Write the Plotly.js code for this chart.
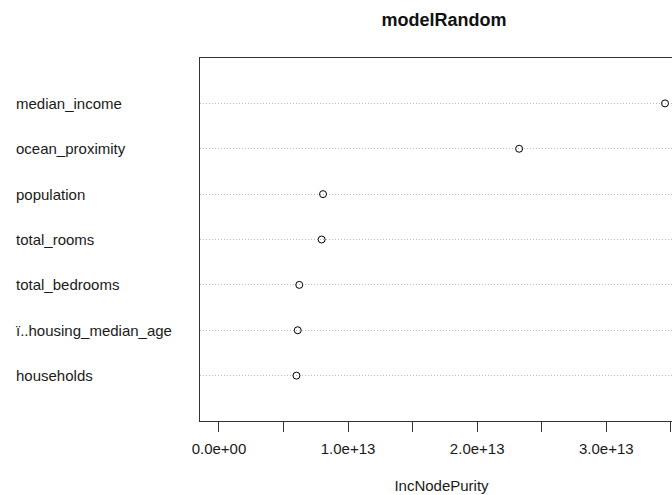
<!DOCTYPE html>
<html>
<head>
<meta charset="utf-8">
<script src="https://cdn.plot.ly/plotly-3.0.1.min.js"></script>
<style>
html, body { margin: 0; padding: 0; overflow: hidden; background: #fff; }
#chart { width: 700px; height: 495px; }
</style>
</head>
<body>
<div id="chart"></div>
<script>
// Variables, top to bottom as drawn
const variables = ["median_income", "ocean_proximity", "population", "total_rooms",
                   "total_bedrooms", "ï..housing_median_age", "households"];
const incNodePurity = [3.455e13, 2.325e13, 0.806e13, 0.795e13, 0.622e13, 0.610e13, 0.600e13];
const tickValues = [0, 0.5e13, 1.0e13, 1.5e13, 2.0e13, 2.5e13, 3.0e13, 3.5e13];
const tickLabels = ["0.0e+00", "", "1.0e+13", "", "2.0e+13", "", "3.0e+13", ""];
const chartTitle = "modelRandom";
const xTitle = "IncNodePurity";

const n = variables.length;
const yPos = variables.map((_, i) => n - i);

const font = "Liberation Sans, Arial, sans-serif";
const plotLeft = 200, plotRight = 683;
const plotW = plotRight - plotLeft;

const annotations = variables.map((v, i) => ({
  text: v, xref: "paper", yref: "y",
  x: (14 - plotLeft) / plotW, y: yPos[i],
  xanchor: "left", yanchor: "middle", showarrow: false,
  font: { family: font, size: 15, color: "#1a1a1a" }
}));

Plotly.newPlot("chart", [{
  type: "scatter", mode: "markers",
  x: incNodePurity, y: yPos,
  marker: { symbol: "circle-open", size: 7, color: "#000", line: { width: 1, color: "#000" } },
  hoverinfo: "skip"
}], {
  width: 700, height: 495,
  margin: { l: 200, r: 17, t: 58, b: 74.3, pad: 0 },
  paper_bgcolor: "#fff", plot_bgcolor: "#fff",
  showlegend: false,
  title: {
    text: "<b>" + chartTitle + "</b>",
    font: { family: font, size: 18, color: "#111" },
    xref: "paper", x: 0.505, xanchor: "center",
    yref: "container", y: 1 - 20 / 495, yanchor: "middle"
  },
  xaxis: {
    range: [-0.147e13, -0.147e13 + plotW / 129.1 * 1e13],
    tickmode: "array", tickvals: tickValues, ticktext: tickLabels,
    ticks: "outside", ticklen: 10, tickwidth: 1, tickcolor: "#333",
    ticklabelstandoff: 4,
    showgrid: false, zeroline: false,
    showline: true, mirror: true, linecolor: "#333", linewidth: 1,
    tickfont: { family: font, size: 15, color: "#1a1a1a" },
    title: { text: xTitle, font: { family: font, size: 15, color: "#1a1a1a" }, standoff: 24 },
    automargin: false, fixedrange: true
  },
  yaxis: {
    range: [0, n + 1],
    tickmode: "array", tickvals: yPos, showticklabels: false, ticks: "",
    showgrid: true, gridcolor: "#b8b8b8", griddash: "1px,2px", gridwidth: 1,
    zeroline: false,
    showline: true, mirror: true, linecolor: "#333", linewidth: 1,
    automargin: false, fixedrange: true
  },
  annotations: annotations
}, { displayModeBar: false, staticPlot: true });
</script>
</body>
</html>
